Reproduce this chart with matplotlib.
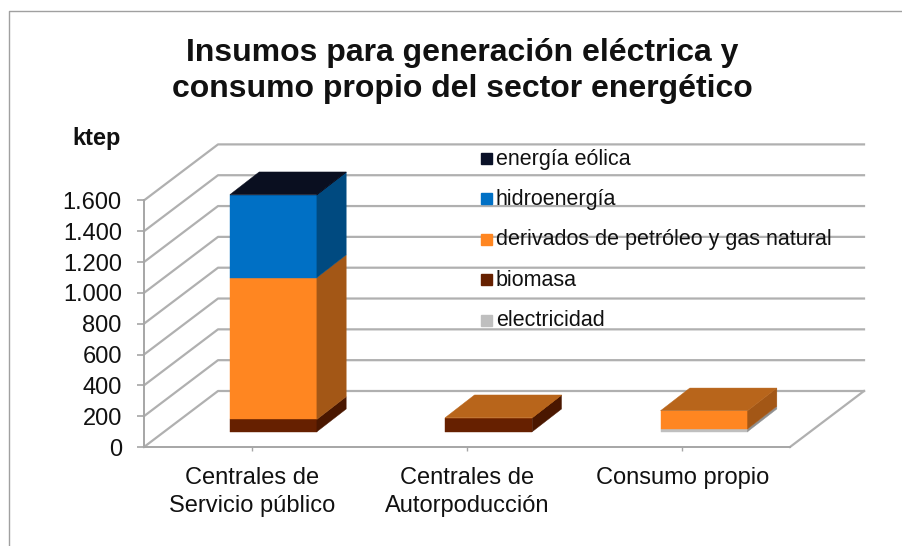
#!/usr/bin/env python3
import matplotlib
matplotlib.use('Agg')
from matplotlib import pyplot as plt
from matplotlib.lines import Line2D
from matplotlib.patches import Rectangle

plt.rcParams['font.family'] = ['Liberation Sans', 'DejaVu Sans']

categories = ['Centrales de\nServicio público', 'Centrales de\nAutorpoducción', 'Consumo propio']
electricidad = [0, 0, 18]
biomasa = [80, 90, 0]
derivados = [920, 1, 118]
hidro = [536, 0, 0]
eolica = [2, 0, 0]
series = [electricidad, biomasa, derivados, hidro, eolica]
names = ['electricidad', 'biomasa', 'derivados de petróleo y gas natural', 'hidroenergía', 'energía eólica']
front = ['#BFBFBF', '#662000', '#FF8621', '#0070C5', '#0A1128']
side = ['#8F8F8F', '#4A1700', '#A35716', '#004A80', '#0A1128']
top = ['#A8A8A8', '#571C00', '#B8651B', '#00569A', '#0A0F20']
yticks = [0, 200, 400, 600, 800, 1000, 1200, 1400, 1600]
ylabels = ['0', '200', '400', '600', '800', '1.000', '1.200', '1.400', '1.600']

W, H = 903, 546
px_x = 215.3       # pixels per category
px_y = 246.6 / 1600  # pixels per ktep
depth_x = 74 / px_x
depth_y = 56 / px_y
bar_w = 87 / px_x
near_x, near_y = 21.7 / px_x, 15.3 / px_y
far_x, far_y = 51 / px_x, 38 / px_y

fig = plt.figure(figsize=(W / 100, H / 100), dpi=100)
# frame: only the left and top edges are in the picture
fig.add_artist(Line2D([8.5 / W, 8.5 / W, 1], [0, 1 - 10.5 / H, 1 - 10.5 / H],
                      color='#A0A0A0', lw=1.0))

ax = fig.add_axes([144 / W, (H - 447) / H, 646 / W, 246.6 / H])
ax.set_xlim(-0.5, 2.5)
ax.set_ylim(0, 1600)
ax.patch.set_visible(False)
for s in ['top', 'right']:
    ax.spines[s].set_visible(False)
for s in ['left', 'bottom']:
    ax.spines[s].set_color('#A6A6A6')
    ax.spines[s].set_linewidth(1.4)
ax.set_xticks(range(3))
ax.set_xticklabels(categories, fontsize=17, linespacing=1.34)
ax.set_yticks(yticks)
ax.set_yticklabels(ylabels, fontsize=17)
ax.tick_params(axis='y', length=5, width=1.2, color='#A6A6A6', pad=11, labelcolor='#111111')
ax.tick_params(axis='x', length=3, width=1, color='#A6A6A6', pad=11.5, labelcolor='#111111')

# gridlines on the side and back walls
for v in yticks:
    ax.plot([-0.5, -0.5 + depth_x, 2.5 + depth_x], [v, v + depth_y, v + depth_y],
            color='#B0B0B0', lw=1.6, clip_on=False, zorder=1)
ax.plot([2.5, 2.5 + depth_x], [0, depth_y], color='#B0B0B0', lw=1.6, clip_on=False, zorder=1)

# stacked bars with fake depth
for i in range(len(categories)):
    base = 0
    x0 = i - bar_w / 2 + near_x
    x1 = x0 + bar_w
    dx = far_x - near_x
    dy = far_y - near_y
    last = None
    for j, vals in enumerate(series):
        v = vals[i]
        if v == 0:
            continue
        y0 = base + near_y
        y1 = y0 + v
        ax.fill([x0, x1, x1, x0], [y0, y0, y1, y1], color=front[j], lw=0.3, clip_on=False, zorder=3)
        ax.fill([x1, x1 + dx, x1 + dx, x1], [y0, y0 + dy, y1 + dy, y1], color=side[j], lw=0.3,
                clip_on=False, zorder=3)
        base += v
        last = j
    y1 = base + near_y
    ax.fill([x0, x1, x1 + dx, x0 + dx], [y1, y1, y1 + dy, y1 + dy], color=top[last], lw=0.3,
            clip_on=False, zorder=3)

# legend, drawn over the gridlines
leg_y = [320.5, 279.5, 239.5, 198.5, 158.5]
for j in range(len(names)):
    fig.add_artist(Rectangle((481 / W, (H - leg_y[j] - 5.5) / H), 11 / W, 11 / H, color=front[j]))
    fig.text(496 / W, (H - leg_y[j] - 0.5) / H, names[j], fontsize=15.5, va='center', color='#111111')

fig.text(462 / W, (H - 53) / H, 'Insumos para generación eléctrica y', fontsize=23, fontweight='bold',
         ha='center', va='center', color='#111111')
fig.text(462 / W, (H - 89) / H, 'consumo propio del sector energético', fontsize=23, fontweight='bold',
         ha='center', va='center', color='#111111')
fig.text(97 / W, (H - 139) / H, 'ktep', fontsize=17, fontweight='bold', ha='center', va='center',
         color='#111111')

fig.savefig('out.png', dpi=100)
